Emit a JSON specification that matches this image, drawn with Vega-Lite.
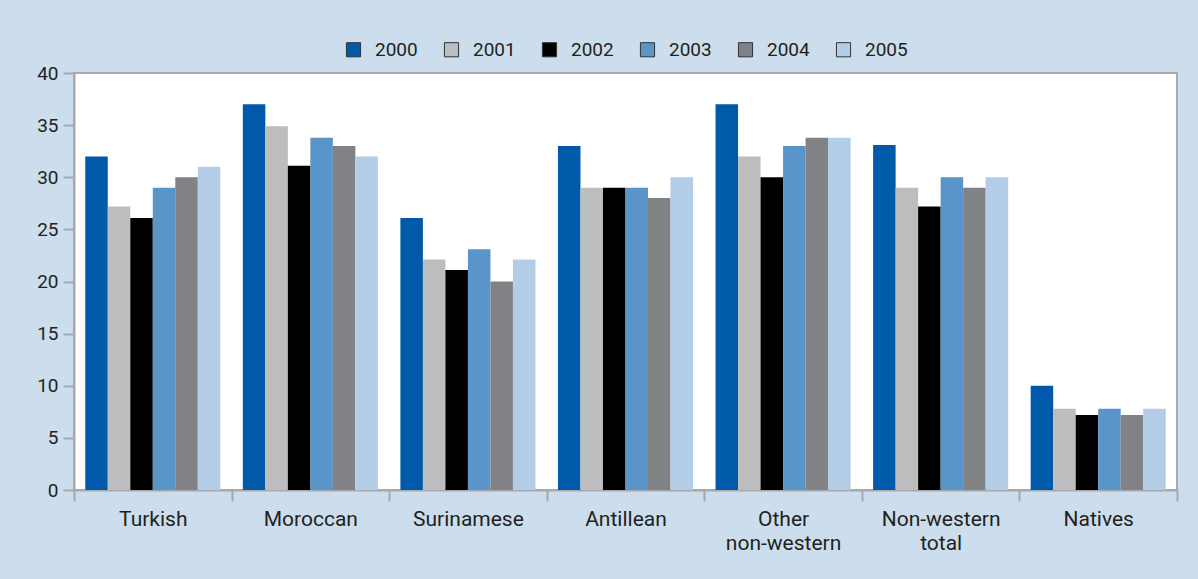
{
  "$schema": "https://vega.github.io/schema/vega-lite/v6.json",
  "width": 1103,
  "height": 417,
  "autosize": {"type": "none"},
  "padding": {"left": 74, "top": 73, "right": 21, "bottom": 89},
  "background": "#ccdded",
  "config": {
    "font": "Roboto",
    "view": {"fill": "#ffffff", "stroke": "#a7a9ac", "strokeWidth": 2},
    "axis": {
      "labelFont": "Roboto",
      "labelColor": "#231f20",
      "labelFontSize": 19,
      "domainColor": "#a7a9ac",
      "domainWidth": 2,
      "tickColor": "#a7a9ac",
      "tickWidth": 2,
      "tickSize": 11,
      "grid": false,
      "title": null
    },
    "legend": {
      "labelFont": "Roboto",
      "labelColor": "#231f20",
      "labelFontSize": 19
    }
  },
  "data": {
    "values": [
      {"group": "Turkish", "year": "2000", "pct": 32.0},
      {"group": "Turkish", "year": "2001", "pct": 27.2},
      {"group": "Turkish", "year": "2002", "pct": 26.1},
      {"group": "Turkish", "year": "2003", "pct": 29.0},
      {"group": "Turkish", "year": "2004", "pct": 30.0},
      {"group": "Turkish", "year": "2005", "pct": 31.0},
      {"group": "Moroccan", "year": "2000", "pct": 37.0},
      {"group": "Moroccan", "year": "2001", "pct": 34.9},
      {"group": "Moroccan", "year": "2002", "pct": 31.1},
      {"group": "Moroccan", "year": "2003", "pct": 33.8},
      {"group": "Moroccan", "year": "2004", "pct": 33.0},
      {"group": "Moroccan", "year": "2005", "pct": 32.0},
      {"group": "Surinamese", "year": "2000", "pct": 26.1},
      {"group": "Surinamese", "year": "2001", "pct": 22.1},
      {"group": "Surinamese", "year": "2002", "pct": 21.1},
      {"group": "Surinamese", "year": "2003", "pct": 23.1},
      {"group": "Surinamese", "year": "2004", "pct": 20.0},
      {"group": "Surinamese", "year": "2005", "pct": 22.1},
      {"group": "Antillean", "year": "2000", "pct": 33.0},
      {"group": "Antillean", "year": "2001", "pct": 29.0},
      {"group": "Antillean", "year": "2002", "pct": 29.0},
      {"group": "Antillean", "year": "2003", "pct": 29.0},
      {"group": "Antillean", "year": "2004", "pct": 28.0},
      {"group": "Antillean", "year": "2005", "pct": 30.0},
      {"group": "Other non-western", "year": "2000", "pct": 37.0},
      {"group": "Other non-western", "year": "2001", "pct": 32.0},
      {"group": "Other non-western", "year": "2002", "pct": 30.0},
      {"group": "Other non-western", "year": "2003", "pct": 33.0},
      {"group": "Other non-western", "year": "2004", "pct": 33.8},
      {"group": "Other non-western", "year": "2005", "pct": 33.8},
      {"group": "Non-western total", "year": "2000", "pct": 33.1},
      {"group": "Non-western total", "year": "2001", "pct": 29.0},
      {"group": "Non-western total", "year": "2002", "pct": 27.2},
      {"group": "Non-western total", "year": "2003", "pct": 30.0},
      {"group": "Non-western total", "year": "2004", "pct": 29.0},
      {"group": "Non-western total", "year": "2005", "pct": 30.0},
      {"group": "Natives", "year": "2000", "pct": 10.0},
      {"group": "Natives", "year": "2001", "pct": 7.8},
      {"group": "Natives", "year": "2002", "pct": 7.2},
      {"group": "Natives", "year": "2003", "pct": 7.8},
      {"group": "Natives", "year": "2004", "pct": 7.2},
      {"group": "Natives", "year": "2005", "pct": 7.8}
    ]
  },
  "mark": {"type": "bar"},
  "encoding": {
    "x": {
      "field": "group",
      "type": "nominal",
      "sort": null,
      "scale": {"paddingInner": 0, "paddingOuter": 0},
      "axis": {
        "labelAngle": 0,
        "tickBand": "extent",
        "labelFontSize": 21,
        "labelPadding": 7,
        "labelLineHeight": 24,
        "labelExpr": "datum.label == 'Other non-western' ? ['Other', 'non-western'] : datum.label == 'Non-western total' ? ['Non-western', 'total'] : datum.label"
      }
    },
    "xOffset": {
      "field": "year",
      "type": "nominal",
      "scale": {"paddingInner": 0, "paddingOuter": 0.5}
    },
    "y": {
      "field": "pct",
      "type": "quantitative",
      "scale": {"domain": [0, 40], "nice": false},
      "axis": {"values": [0, 5, 10, 15, 20, 25, 30, 35, 40], "labelPadding": 5}
    },
    "color": {
      "field": "year",
      "type": "nominal",
      "scale": {
        "domain": ["2000", "2001", "2002", "2003", "2004", "2005"],
        "range": ["#005aa9", "#bcbdbf", "#000000", "#5a95c9", "#808285", "#b4cde6"]
      },
      "legend": {
        "title": null,
        "orient": "none",
        "direction": "horizontal",
        "legendX": 270,
        "legendY": -33,
        "symbolType": "square",
        "symbolSize": 200,
        "symbolStrokeColor": "#333333",
        "symbolStrokeWidth": 1,
        "symbolOpacity": 1,
        "labelOffset": 12,
        "columnPadding": 24
      }
    }
  }
}
